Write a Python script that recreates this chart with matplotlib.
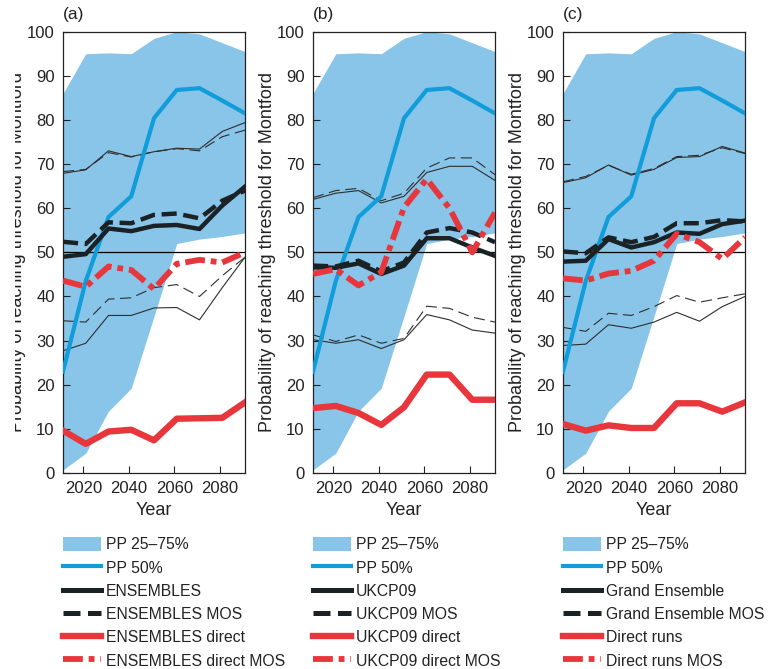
import matplotlib
matplotlib.use("Agg")
import matplotlib.pyplot as plt
from matplotlib.lines import Line2D
from matplotlib.patches import Patch, Rectangle
from matplotlib.font_manager import FontProperties

# ---------------- data ----------------
years = [2011, 2021, 2031, 2041, 2051, 2061, 2071, 2081, 2091]

pp_low = [0.7, 4.5, 14.0, 19.2, 35.5, 52.0, 53.0, 53.6, 54.4]
pp_high = [86.0, 95.0, 95.2, 95.0, 98.5, 100.0, 99.5, 97.5, 95.5]
pp_mid = [23.0, 43.5, 58.0, 62.7, 80.4, 86.8, 87.2, 84.4, 81.5]

# panel (a) ENSEMBLES
a_main = [49.0, 49.6, 55.4, 54.8, 56.0, 56.2, 55.3, 60.6, 64.9]
a_mos = [52.4, 51.9, 56.8, 56.6, 58.5, 58.8, 57.7, 61.7, 64.0]
a_up = [67.9, 68.7, 73.0, 71.7, 72.8, 73.6, 73.4, 77.4, 79.4]
a_up_mos = [68.3, 68.8, 72.6, 71.6, 72.8, 73.5, 73.0, 76.2, 77.7]
a_lo = [27.7, 29.4, 35.7, 35.7, 37.4, 37.5, 34.7, 42.0, 48.9]
a_lo_mos = [34.5, 34.2, 39.4, 39.7, 42.0, 42.7, 40.0, 44.7, 48.9]
a_direct = [9.6, 6.6, 9.4, 9.8, 7.4, 12.3, 12.4, 12.5, 16.0]
a_direct_mos = [43.6, 42.2, 46.8, 46.0, 41.7, 47.4, 48.3, 47.7, 50.0]

# panel (b) UKCP09
b_main = [46.6, 46.5, 47.5, 45.1, 47.0, 53.2, 53.2, 51.1, 49.2]
b_mos = [47.0, 46.8, 48.1, 45.7, 47.7, 54.5, 55.5, 54.5, 52.3]
b_up = [62.0, 63.4, 64.0, 61.2, 62.7, 68.1, 69.5, 69.5, 66.3]
b_up_mos = [62.4, 64.0, 64.5, 61.7, 63.4, 69.1, 71.4, 71.4, 67.6]
b_lo = [30.2, 29.4, 30.2, 28.2, 30.2, 35.9, 34.7, 32.4, 31.7]
b_lo_mos = [31.3, 29.8, 31.3, 29.4, 30.5, 37.8, 37.3, 35.3, 34.2]
b_direct = [14.7, 15.2, 13.6, 10.9, 14.9, 22.3, 22.3, 16.6, 16.6]
b_direct_mos = [45.1, 46.2, 42.5, 45.5, 60.2, 66.6, 60.0, 50.0, 59.0]

# panel (c) Grand Ensemble
c_main = [47.9, 48.1, 53.0, 51.1, 52.3, 54.5, 54.2, 56.4, 57.2]
c_mos = [50.2, 49.8, 53.4, 52.3, 53.5, 56.6, 56.6, 57.3, 57.0]
c_up = [65.8, 66.9, 69.8, 67.5, 68.8, 71.5, 71.7, 74.0, 72.5]
c_up_mos = [66.0, 67.2, 69.7, 67.7, 69.0, 71.7, 72.0, 73.7, 72.4]
c_lo = [28.9, 29.2, 33.6, 32.8, 34.2, 36.4, 34.4, 37.7, 40.0]
c_lo_mos = [33.0, 32.1, 36.2, 35.7, 37.7, 40.2, 38.7, 39.7, 40.6]
c_direct = [11.1, 9.6, 10.8, 10.2, 10.2, 15.8, 15.8, 13.9, 16.0]
c_direct_mos = [44.1, 43.6, 45.2, 45.8, 48.1, 54.2, 52.3, 48.5, 53.4]

panel_tags = ["(a)", "(b)", "(c)"]
legend_names = [
    ["PP 25\u201375%", "PP 50%", "ENSEMBLES", "ENSEMBLES MOS", "ENSEMBLES direct", "ENSEMBLES direct MOS"],
    ["PP 25\u201375%", "PP 50%", "UKCP09", "UKCP09 MOS", "UKCP09 direct", "UKCP09 direct MOS"],
    ["PP 25\u201375%", "PP 50%", "Grand Ensemble", "Grand Ensemble MOS", "Direct runs", "Direct runs MOS"],
]
ylabel_text = "Probability of reaching threshold for Montford"
xticks = [2020, 2040, 2060, 2080]
yticks = [0, 10, 20, 30, 40, 50, 60, 70, 80, 90, 100]

panels = [
    (a_main, a_mos, a_up, a_up_mos, a_lo, a_lo_mos, a_direct, a_direct_mos),
    (b_main, b_mos, b_up, b_up_mos, b_lo, b_lo_mos, b_direct, b_direct_mos),
    (c_main, c_mos, c_up, c_up_mos, c_lo, c_lo_mos, c_direct, c_direct_mos),
]

# ---------------- style ----------------
BAND = "#88C5E9"
BLUE = "#119CDA"
BLACK = "#1B2226"
THIN = "#2E2E2E"
RED = "#E8373C"

plt.rcParams["font.family"] = ["Liberation Sans", "DejaVu Sans"]

W, H = 769, 669
fig = plt.figure(figsize=(W / 100, H / 100), dpi=100)

ax_lefts = [63, 313, 563]
ax_top, ax_bot, ax_w = 31.7, 473, 182

THICK_DASH = (3.4, 1.5)
DASHDOT = (3.4, 1.0, 1.0, 1.0)
THIN_DASH = (10, 5)

for i, (left, data) in enumerate(zip(ax_lefts, panels)):
    main, mos, up, up_mos, lo, lo_mos, direct, direct_mos = data
    ax = fig.add_axes([left / W, (H - ax_bot) / H, ax_w / W, (ax_bot - ax_top) / H])
    ax.fill_between(years, pp_low, pp_high, color=BAND, lw=0, zorder=1)
    ax.axhline(50, color="black", lw=0.9, zorder=2)
    ax.plot(years, up, color=THIN, lw=0.8, zorder=3)
    ax.plot(years, up_mos, color=THIN, lw=0.8, dashes=THIN_DASH, zorder=3)
    ax.plot(years, lo, color=THIN, lw=0.8, zorder=3)
    ax.plot(years, lo_mos, color=THIN, lw=0.8, dashes=THIN_DASH, zorder=3)
    ax.plot(years, pp_mid, color=BLUE, lw=3.0, zorder=4, solid_joinstyle="miter")
    ax.plot(years, main, color=BLACK, lw=3.2, zorder=5)
    ax.plot(years, mos, color=BLACK, lw=3.2, dashes=THICK_DASH, dash_capstyle="butt", zorder=5)
    ax.plot(years, direct, color=RED, lw=4.6, zorder=6)
    ax.plot(years, direct_mos, color=RED, lw=4.2, dashes=DASHDOT, dash_capstyle="butt", zorder=6)

    ax.set_xlim(2011, 2091)
    ax.set_ylim(0, 100)
    ax.set_xticks(xticks)
    ax.set_yticks(yticks)
    ax.tick_params(direction="in", length=5, width=0.8, labelsize=12, pad=6, colors="#222222")
    for s in ax.spines.values():
        s.set_linewidth(0.9)
        s.set_color("#222222")
    ax.set_xlabel("Year", fontsize=13, labelpad=4, color="#222222")

    fig.text(left / W, 1 - 15 / H, panel_tags[i], ha="left", va="center", fontsize=12.5, color="#222222")
    fig.text((left - 45) / W, 1 - 252 / H, ylabel_text, rotation=90, ha="center", va="center",
             fontsize=13, color="#222222")

    handles = [
        Patch(facecolor=BAND, edgecolor="none"),
        Line2D([], [], color=BLUE, lw=3.0),
        Line2D([], [], color=BLACK, lw=3.6),
        Line2D([], [], color=BLACK, lw=3.6, dashes=THICK_DASH, dash_capstyle="butt"),
        Line2D([], [], color=RED, lw=4.6),
        Line2D([], [], color=RED, lw=4.2, dashes=DASHDOT, dash_capstyle="butt"),
    ]
    ax.legend(handles, legend_names[i], loc="upper left",
              bbox_to_anchor=(left / W, 1 - 537 / H), bbox_transform=fig.transFigure,
              frameon=False, borderpad=0, borderaxespad=0, handlelength=2.4,
              handleheight=1.0, handletextpad=0.35, labelspacing=0.5,
              prop=FontProperties(family=["Liberation Sans", "DejaVu Sans"], size=11.3),
              labelcolor="#222222")

# left edge of the first panel's y label is cut off in the reference
fig.add_artist(Rectangle((0, 0), 15 / W, 1, transform=fig.transFigure, facecolor="white",
                         edgecolor="none", zorder=20))

fig.savefig("out.png", dpi=100)
